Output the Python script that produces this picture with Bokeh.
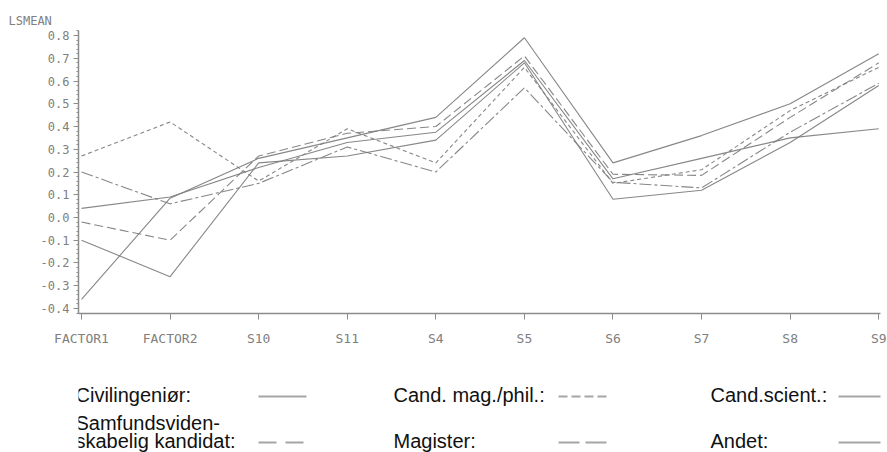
from bokeh.plotting import figure
from bokeh.models import Range1d, FixedTicker, NumeralTickFormatter, Title, Label
from bokeh.layouts import column
from bokeh.embed import file_html
from bokeh.resources import INLINE

# Least-squares means per item, one list per education group
categories = ["FACTOR1", "FACTOR2", "S10", "S11", "S4", "S5", "S6", "S7", "S8", "S9"]
civilingenior = [0.04, 0.09, 0.22, 0.33, 0.375, 0.69, 0.17, 0.26, 0.35, 0.39]
cand_mag_phil = [0.27, 0.42, 0.16, 0.39, 0.24, 0.66, 0.15, 0.21, 0.47, 0.66]
cand_scient = [-0.36, 0.085, 0.26, 0.35, 0.44, 0.79, 0.24, 0.36, 0.50, 0.72]
samfundsvid = [-0.02, -0.10, 0.27, 0.37, 0.40, 0.71, 0.19, 0.185, 0.44, 0.68]
magister = [0.20, 0.06, 0.15, 0.31, 0.20, 0.57, 0.155, 0.13, 0.375, 0.59]
andet = [-0.10, -0.26, 0.24, 0.27, 0.34, 0.68, 0.08, 0.12, 0.33, 0.58]

y_ticks = [-0.4, -0.3, -0.2, -0.1, 0.0, 0.1, 0.2, 0.3, 0.4, 0.5, 0.6, 0.7, 0.8]

# (legend label, values, dash in chart, dash of legend sample)
series = [
    ("Civilingeniør:", civilingenior, "solid", "solid"),
    ("Cand. mag./phil.:", cand_mag_phil, "4 3", "9 4"),
    ("Cand.scient.:", cand_scient, "solid", "solid"),
    ("Samfundsviden-\nskabelig kandidat:", samfundsvid, "9 4", "18 9"),
    ("Magister:", magister, "12 3 3 3", "21 6"),
    ("Andet:", andet, "solid", "solid"),
]

AXIS_GREY = "#8c8c8c"
LINE_GREY = "#7a7a7a"
TICK_TEXT = "#808080"
MONO = "DejaVu Sans Mono"

xs = list(range(len(categories)))

p = figure(width=887, height=360, output_backend="svg", toolbar_location=None,
           x_range=Range1d(-0.034, 9.02), y_range=Range1d(-0.422, 0.822),
           min_border_left=78, min_border_right=7, min_border_top=30,
           min_border_bottom=47, outline_line_color=None)
p.grid.grid_line_color = None
p.background_fill_color = "white"
p.border_fill_color = "white"

for name, vals, dash, _ in series:
    p.line(xs, vals, line_color=LINE_GREY, line_width=1.1, line_dash=dash, line_alpha=0.9)

# x axis with item names
p.xaxis.ticker = FixedTicker(ticks=xs)
p.xaxis.major_label_overrides = {i: c for i, c in enumerate(categories)}
p.xaxis.minor_tick_line_color = None
p.xaxis.major_tick_in = 0
p.xaxis.major_tick_out = 6
p.xaxis.major_label_standoff = 11
p.xaxis.axis_line_color = AXIS_GREY
p.xaxis.axis_line_width = 1.5
p.xaxis.major_tick_line_color = AXIS_GREY
p.xaxis.major_label_text_font = MONO
p.xaxis.major_label_text_font_size = "13px"
p.xaxis.major_label_text_color = TICK_TEXT

# y axis with fine minor ticks
p.yaxis.ticker = FixedTicker(ticks=y_ticks, minor_ticks=[round(-0.42 + 0.02 * k, 2) for k in range(63)])
p.yaxis.formatter = NumeralTickFormatter(format="0.0")
p.yaxis.major_tick_in = 0
p.yaxis.major_tick_out = 5
p.yaxis.minor_tick_in = 0
p.yaxis.minor_tick_out = 2
p.yaxis.major_label_standoff = 4
p.yaxis.axis_line_color = AXIS_GREY
p.yaxis.axis_line_width = 1.5
p.yaxis.major_tick_line_color = AXIS_GREY
p.yaxis.minor_tick_line_color = AXIS_GREY
p.yaxis.major_label_text_font = MONO
p.yaxis.major_label_text_font_size = "12px"
p.yaxis.major_label_text_color = TICK_TEXT

p.add_layout(Title(text="LSMEAN", align="left", offset=-70, text_font=MONO,
                   text_font_size="12px", text_color=TICK_TEXT, text_font_style="normal",
                   standoff=6), "above")

# legend panel below the chart; its frame lines up with the chart frame,
# so x data units equal page pixels (y counted down from the panel top)
lg = figure(width=887, height=92, output_backend="svg", toolbar_location=None,
            x_range=Range1d(78, 880), y_range=Range1d(92, 0),
            min_border_left=78, min_border_right=7, min_border_top=0, min_border_bottom=0,
            outline_line_color=None)
lg.axis.visible = False
lg.grid.grid_line_color = None

col_x = [75, 393, 710]
sample_x = [(258, 306), (558, 607), (838, 887), (258, 306), (558, 607), (838, 887)]
row_base = [34, 80]
sample_y = [36, 82]
SANS = "Liberation Sans"
for k, (name, vals, _, sdash) in enumerate(series):
    r, c = divmod(k, 3)
    for j, t in enumerate(reversed(name.split("\n"))):
        lg.add_layout(Label(x=col_x[c], y=row_base[r] - 18 * j, text=t, text_font=SANS,
                            text_font_size="20px", text_color="#111111",
                            text_baseline="alphabetic", text_align="left"))
    x0, x1 = sample_x[k]
    lg.line([x0, x1], [sample_y[r], sample_y[r]], line_color="#a5a5a5", line_width=2,
            line_dash=sdash)

layout = column(p, lg, spacing=0)
open("out.html", "w").write(file_html(layout, INLINE))
